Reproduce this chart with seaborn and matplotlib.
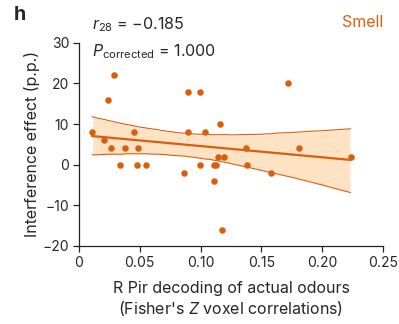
import matplotlib
matplotlib.use("Agg")
import matplotlib.pyplot as plt
import seaborn as sns
import numpy as np
import pandas as pd

# R Pir decoding (Fisher's Z) vs interference effect
decoding = [0.0107, 0.0203, 0.0238, 0.026, 0.0285, 0.0334, 0.038, 0.0449, 0.0479, 0.0482,
            0.055, 0.0863, 0.090, 0.090, 0.0997, 0.0999, 0.104, 0.111, 0.111, 0.113,
            0.1145, 0.1156, 0.1175, 0.1194, 0.137, 0.138, 0.158, 0.1717, 0.181, 0.2234]
interference = [8, 6, 16, 4, 22, 0, 4, 8, 0, 4,
                0, -2, 8, 18, 18, 0, 8, -4, 0, 0,
                2, 10, -16, 2, 4, 0, -2, 20, 4, 2]
xticks = [0, 0.05, 0.10, 0.15, 0.20, 0.25]
xticklabels = ["0", "0.05", "0.10", "0.15", "0.20", "0.25"]
yticks = [-20, -10, 0, 10, 20, 30]

orange = "#d95f0e"
peach = "#fde3c4"

sns.set_style("ticks")
plt.rcParams["font.family"] = ["Inter", "DejaVu Sans"]
plt.rcParams["mathtext.fontset"] = "custom"
plt.rcParams["mathtext.it"] = "Inter:italic"
plt.rcParams["mathtext.rm"] = "Inter"

df = pd.DataFrame({"x": decoding, "y": interference})

fig = plt.figure(figsize=(3.99, 3.24), dpi=100)
ax = fig.add_axes([0.198, 0.241, 0.762, 0.627])

sns.regplot(data=df, x="x", y="y", ax=ax, ci=95, seed=3, n_boot=2000,
            scatter_kws=dict(s=22, color=orange, alpha=1, linewidths=0, zorder=4),
            line_kws=dict(color=orange, lw=1.6, zorder=3), color=orange)

# recolour the band and outline its upper and lower edges
band = ax.collections[-1]
band.set_facecolor(peach)
band.set_alpha(1)
band.set_zorder(1)
v = pd.DataFrame(band.get_paths()[0].vertices, columns=["x", "y"])
v["x"] = v["x"].round(8)
edges = v.groupby("x")["y"].agg(["min", "max"])
ax.plot(edges.index, edges["min"], color=orange, lw=0.8, zorder=2)
ax.plot(edges.index, edges["max"], color=orange, lw=0.8, zorder=2)

ax.set_xlim(0, 0.25)
ax.set_ylim(-20, 30)
ax.set_xticks(xticks)
ax.set_xticklabels(xticklabels)
ax.set_yticks(yticks)
ax.tick_params(labelsize=10, length=4, width=0.9, color="#222222", pad=3)
for s in ["left", "bottom"]:
    ax.spines[s].set_linewidth(0.9)
    ax.spines[s].set_color("#222222")
sns.despine(ax=ax)

ax.set_xlabel("R Pir decoding of actual odours\n(Fisher's $Z$ voxel correlations)",
              fontsize=11.5, labelpad=8, linespacing=1.2)
ax.set_ylabel("Interference effect (p.p.)", fontsize=11.5, labelpad=2)

fig.text(0.23, 0.925, "$r_{28}$ = \u22120.185", fontsize=11.5, va="center")
fig.text(0.23, 0.84, r"$P_{\mathrm{corrected}}$ = 1.000", fontsize=11.5, va="center")
fig.text(0.96, 0.93, "Smell", fontsize=11.5, color=orange, ha="right", va="center")
fig.text(0.035, 0.955, "h", fontsize=14, fontweight="bold", va="center")

fig.savefig("out.png", dpi=100)
